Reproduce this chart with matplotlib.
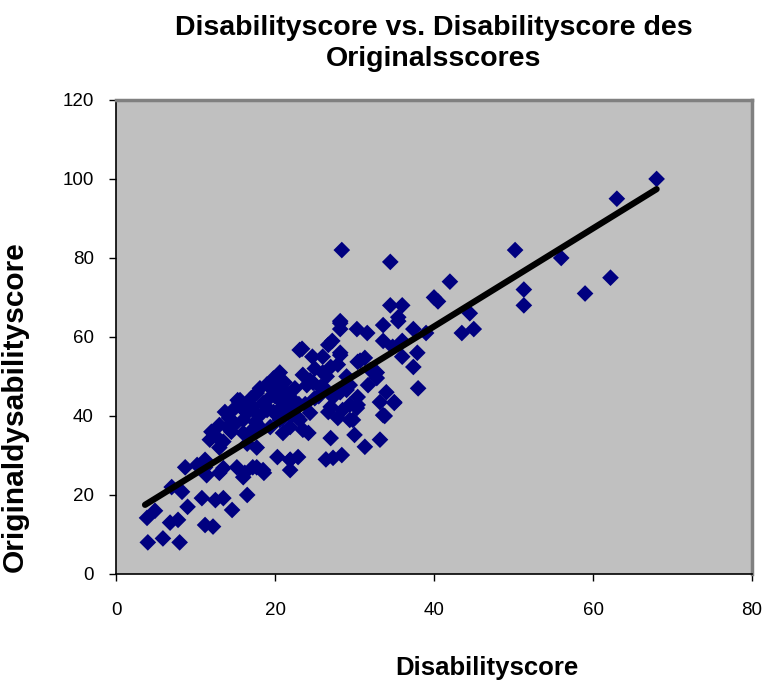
import numpy as np
import matplotlib.pyplot as plt

# Disabilityscore (x) vs. Originaldysabilityscore (y)
disability = [
    3.9, 4.9, 4.0, 5.9, 8.0, 6.8, 7.8, 9.0, 11.2, 12.2, 10.8, 12.5, 13.5, 14.6,
    7.0, 8.3, 8.7, 10.2, 11.2, 11.4, 13.0, 15.2, 16.2, 16.5, 17.7, 18.6, 16.0,
    20.6, 18.1, 19.4, 15.3, 14.7, 14.0, 11.8, 13.0, 11.2, 13.5, 17.2, 18.5,
    20.3, 21.9, 16.5, 17.7, 16.0, 16.9, 18.1, 19.4, 20.6, 21.9, 22.8, 19.0,
    17.2, 16.5, 16.0, 20.6, 21.5, 17.7, 19.4, 18.5, 21.9, 13.7, 13.0, 15.5,
    19.0, 20.0, 21.0, 22.0, 23.0, 20.5, 22.5, 18.0, 15.0, 14.5, 13.5, 12.5,
    15.6, 16.4, 17.0, 19.8, 21.2, 18.8, 20.2,
    12.0, 14.2, 15.8, 17.5, 19.8, 21.0, 23.8, 25.0, 26.0, 26.5,
    28.2, 30.3, 31.6, 33.6, 33.6, 34.8, 27.2, 28.2, 26.0, 23.1, 24.7, 27.0,
    27.9, 30.7, 32.0, 32.8, 31.7, 29.0, 29.4, 30.4, 27.3, 28.2, 27.0, 28.5,
    29.4, 30.3, 27.9, 29.4, 34.0, 35.0, 33.2, 33.6, 23.5, 24.4, 24.0, 24.8,
    25.7, 21.0, 22.3, 21.5, 23.1, 24.4, 21.9, 23.5, 24.2, 21.0, 27.0, 30.0,
    31.3, 33.2, 21.9, 22.9, 27.3, 28.4, 26.4,
    28.4, 34.5, 40.0, 34.5, 36.0, 35.5, 35.5, 28.2, 28.2, 37.4, 39.0, 36.0,
    23.4, 26.7, 28.2, 30.4, 31.3, 32.8, 36.0, 37.9, 37.4, 38.0, 35.0, 33.8,
    26.7, 30.4, 29.0, 29.8, 25.5, 26.0, 25.0,
    42.0, 40.5, 44.5, 43.5, 45.0, 50.2, 56.0, 51.3, 51.3, 59.0, 62.2, 63.0,
    68.0,
]
original = [
    14.2, 16.0, 8.0, 9.0, 8.0, 13.0, 13.7, 17.0, 12.4, 12.0, 19.2, 18.7, 19.2, 16.2,
    22.0, 20.8, 27.0, 27.6, 27.0, 25.0, 25.6, 27.0, 25.6, 20.0, 27.0, 25.6, 24.5,
    51.0, 47.0, 47.3, 44.0, 41.5, 37.2, 34.0, 32.0, 28.9, 26.8, 27.0, 26.3,
    29.6, 28.9, 33.0, 32.0, 35.7, 36.0, 37.2, 37.2, 39.0, 41.5, 39.7, 41.5,
    42.3, 40.8, 39.0, 44.0, 45.8, 45.8, 44.8, 43.3, 26.3, 41.0, 37.7, 43.5,
    48.0, 45.0, 42.0, 40.0, 43.0, 47.5, 47.0, 40.0, 38.0, 36.0, 33.5, 35.0,
    44.0, 43.0, 44.5, 49.5, 48.5, 42.5, 41.0,
    36.0, 39.5, 42.0, 38.5, 41.0, 39.5, 43.0, 44.5, 47.5, 50.0,
    63.5, 62.0, 61.0, 63.0, 59.0, 57.5, 59.0, 56.0, 55.0, 56.7, 55.0, 52.4,
    53.0, 54.0, 51.6, 49.6, 47.8, 50.0, 47.8, 44.8, 44.8, 46.0, 42.3, 41.5,
    42.8, 42.0, 39.5, 39.0, 46.0, 43.5, 43.5, 40.2, 50.4, 49.0, 47.8, 48.4,
    47.3, 46.6, 44.0, 42.3, 39.0, 40.8, 37.2, 36.5, 35.7, 35.7, 34.4, 35.2,
    32.2, 34.0, 28.9, 29.6, 29.4, 30.1, 29.0,
    82.0, 79.0, 70.0, 68.0, 68.0, 65.0, 64.0, 64.0, 62.0, 62.0, 61.0, 59.0,
    57.0, 58.0, 55.4, 53.7, 54.7, 51.0, 55.0, 56.0, 52.4, 47.0, 43.3, 40.0,
    41.0, 42.8, 46.6, 39.0, 45.0, 51.0, 52.0,
    74.0, 69.0, 66.0, 61.0, 62.0, 82.0, 80.0, 72.0, 68.0, 71.0, 75.0, 95.0,
    100.0,
]

# linear trendline as shown in the chart (y = slope * x + intercept)
trend_slope = 1.242
trend_intercept = 12.97

x_ticks = [0, 20, 40, 60, 80]
y_ticks = [0, 20, 40, 60, 80, 100, 120]

plt.rcParams['font.family'] = ['Liberation Sans', 'DejaVu Sans']

fig = plt.figure(figsize=(7.72, 6.86), dpi=100)
ax = fig.add_axes([0.1503, 0.1633, 0.8238, 0.6910])
ax.set_facecolor('#C0C0C0')

ax.scatter(disability, original, marker='D', s=72, color='#000080',
           edgecolors='none', zorder=3)

xs = np.array([3.65, max(disability)])
ax.plot(xs, trend_slope * xs + trend_intercept, color='black', lw=4.5,
        solid_capstyle='round', zorder=4)

ax.set_xlim(0, 80)
ax.set_ylim(0, 120)
ax.set_xticks(x_ticks)
ax.set_yticks(y_ticks)
ax.tick_params(direction='out', length=5, width=1, labelsize=13.5,
               colors='black')
ax.tick_params(axis='x', pad=15)
ax.tick_params(axis='y', pad=11)

for side in ['left', 'bottom']:
    ax.spines[side].set_color('black')
    ax.spines[side].set_linewidth(1.2)
for side in ['top', 'right']:
    ax.spines[side].set_color('#808080')
    ax.spines[side].set_linewidth(2.5)

fig.text(0.5622, 0.937, 'Disabilityscore vs. Disabilityscore des\nOriginalsscores',
         ha='center', va='center', fontsize=20.5, fontweight='bold',
         linespacing=1.25)
fig.text(0.631, 0.026, 'Disabilityscore', ha='center', va='center',
         fontsize=18.5, fontweight='bold')
fig.text(0.0194, 0.407, 'Originaldysabilityscore', ha='center', va='center',
         rotation=90, fontsize=21.5, fontweight='bold')

plt.savefig('out.png', dpi=100)
